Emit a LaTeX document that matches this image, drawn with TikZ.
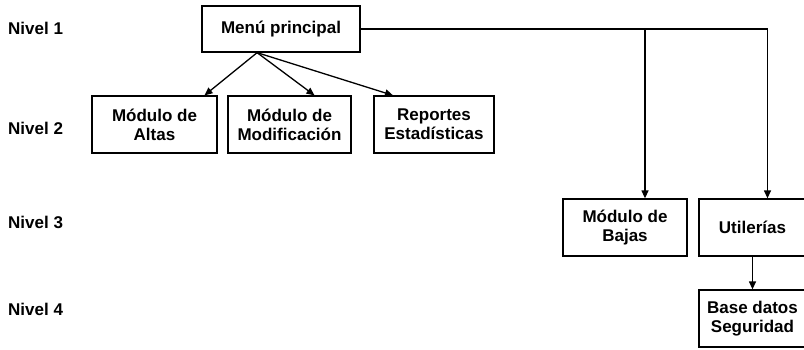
\documentclass[tikz,border=0pt]{standalone}
\usepackage{fontspec}
\setmainfont{Liberation Sans}
\usetikzlibrary{arrows.meta,calc}

\tikzset{
  modulo/.style={draw, line width=1.3pt, align=center, inner sep=2pt, minimum height=57pt, font=\bfseries\fontsize{17}{19}\selectfont},
  nivel/.style={anchor=west, inner sep=0pt, font=\bfseries\fontsize{17}{19}\selectfont},
  flecha/.style={line width=1.3pt, -{Triangle[length=8pt,width=7pt]}}
}

\begin{document}
\begin{tikzpicture}[x=1pt,y=-1pt]
\useasboundingbox (0,0) rectangle (804,349);
\clip (0,0) rectangle (804,349);

\node[nivel] (n1) at (8,28) {Nivel 1};
\node[nivel] (n2) at (8,128) {Nivel 2};
\node[nivel] (n3) at (8,222) {Nivel 3};
\node[nivel] (n4) at (8,309) {Nivel 4};

\node[modulo, minimum width=158pt, minimum height=46pt] (menu) at (281,29) {Menú principal};
\node[modulo, minimum width=125pt] (altas) at (154.5,124.5) {Módulo de\\Altas};
\node[modulo, minimum width=123pt] (modif) at (289.5,124.5) {Módulo de\\Modificación};
\node[modulo, minimum width=120pt] (report) at (434,124.5) {Reportes\\Estadísticas};
\node[modulo, minimum width=124pt] (bajas) at (625,227.5) {Módulo de\\Bajas};
\node[modulo, minimum width=107pt] (util) at (752.5,227.5) {Utilerías};
\node[modulo, minimum width=107pt] (base) at (752.5,318.5) {Base datos\\Seguridad};

\coordinate (salida) at ($(menu.south west)!0.35!(menu.south east)$);
\draw[flecha] (salida) -- ([xshift=50pt]altas.north);
\draw[flecha] (salida) -- ([xshift=25pt]modif.north);
\draw[flecha] (salida) -- ([xshift=-41pt]report.north);

\draw[flecha] (menu.east) -| ([xshift=15pt]util.north);
\draw[flecha] ([xshift=20pt]bajas.north |- menu.east) -- ([xshift=20pt]bajas.north);
\draw[flecha] (util.south) -- (base.north);
\end{tikzpicture}
\end{document}
